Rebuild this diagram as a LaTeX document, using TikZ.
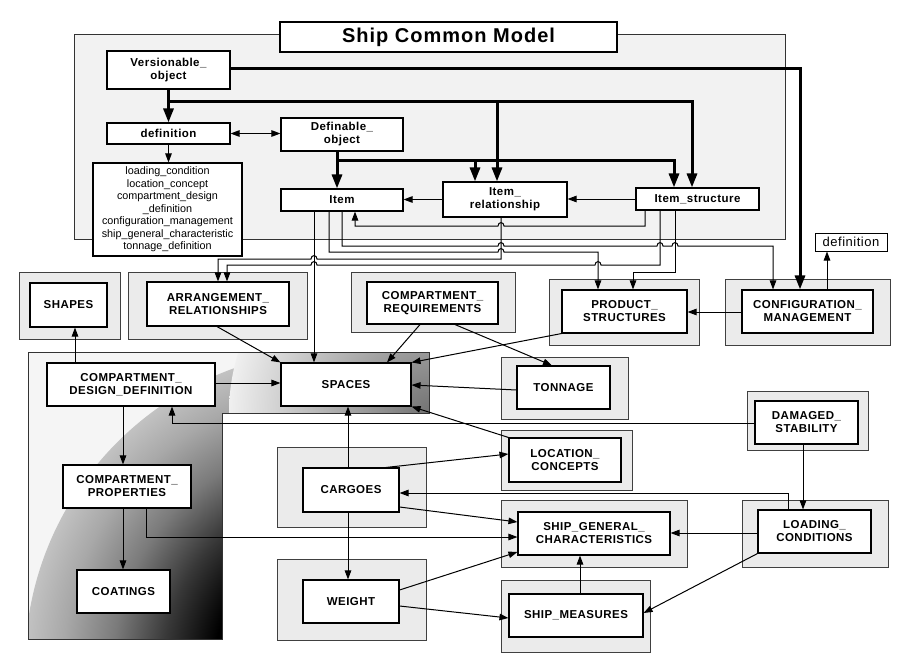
\documentclass[tikz,border=0pt]{standalone}
\usepackage{fontspec}
\setmainfont{Liberation Sans}
\newfontfamily\lblfont{Liberation Sans}[LetterSpace=4]
\newfontfamily\ttlfont{Liberation Sans}[LetterSpace=5]
\usetikzlibrary{arrows.meta,fit,calc}
\pgfdeclareradialshading{halo}{\pgfpoint{0bp}{0bp}}{color(0bp)=(black); color(10bp)=(black); color(14bp)=(black!78); color(18bp)=(black!52); color(22bp)=(black!34); color(25bp)=(black!24); color(50bp)=(black!24)}
\begin{document}
\begin{tikzpicture}[x=1pt,y=-1pt,
  lab/.style={font=\lblfont\bfseries\fontsize{11.5}{13}\selectfont, align=center, inner sep=0pt},
  ibox/.style={draw=black, line width=1.1pt, fill=white, inner sep=0pt},
  obox/.style={draw=black!75, line width=0.9pt, fill=black!8, inner sep=0pt},
  conn/.style={line width=1pt, -{Triangle[length=9pt,width=6.5pt]}},
  fat/.style={line width=3pt, -{Triangle[length=14pt,width=10pt]}},
  hopR/.style args={#1/#2}{insert path={-- (#1-3,#2) .. controls (#1-3,#2-4.5) and (#1+3,#2-4.5) .. (#1+3,#2)}},
  hopL/.style args={#1/#2}{insert path={-- (#1+3,#2) .. controls (#1+3,#2-4.5) and (#1-3,#2-4.5) .. (#1-3,#2)}},
]
\useasboundingbox (0,0) rectangle (900,664);
\fill[white] (0,0) rectangle (900,664);

% top container
\node[fit={(74,34)(785,239)}, draw=black!80, line width=0.9pt, fill=black!5, inner sep=0pt] (scm) {};

% L-shaped shaded container
\fill[black!4] (28,352) -- (429,352) -- (429,413) -- (222,413) -- (222,639) -- (28,639) -- cycle;
\begin{scope}
  \clip (28,352) -- (429,352) -- (429,413) -- (222,413) -- (222,639) -- (28,639) -- cycle;
  \shade[shading=halo] (340,665) circle [radius=315pt];
  \begin{scope}
    \clip (222,352) rectangle (429,413);
    \shade[inner color=black!55, outer color=black!6] (429,413) circle [radius=200pt];
  \end{scope}
\end{scope}
\draw[black!80, line width=0.9pt] (28,352) -- (429,352) -- (429,413) -- (222,413) -- (222,639) -- (28,639) -- cycle;

% outer entity boxes
\node[obox, fit={(19,272)(120,339)}] (shapesO) {};
\node[obox, fit={(128,272)(307,339)}] (arrO) {};
\node[obox, fit={(351,272)(515,332)}] (creqO) {};
\node[obox, fit={(549,279)(699,345)}] (psO) {};
\node[obox, fit={(725,279)(890,345)}] (cmO) {};
\node[obox, fit={(501,357)(628,419)}] (tonnageO) {};
\node[obox, fit={(501,430)(632,490)}] (loccO) {};
\node[obox, fit={(747,391)(868,450)}] (dmgO) {};
\node[obox, fit={(742,500)(888,567)}] (loadO) {};
\node[obox, fit={(501,500)(687,567)}] (sgcO) {};
\node[obox, fit={(501,580)(650,652)}] (smO) {};
\node[obox, fit={(277,447)(426,527)}] (cargoO) {};
\node[obox, fit={(277,559)(426,640)}] (weightO) {};

% top boxes
\node[ibox, fit={(280,22)(617,52)},
      label={[font=\ttlfont\bfseries\fontsize{20}{24}\selectfont, inner sep=0pt]center:Ship Common Model}] (title) {};
\node[ibox, fit={(107,51)(230,89)}, label={[lab]center:Versionable\_\\object}] (vers) {};
\node[ibox, fit={(107,123)(230,144)}, label={[lab]center:definition}] (defn) {};
\node[ibox, fit={(93,163)(242,256)},
      label={[font=\fontsize{10.8}{12.5}\selectfont, align=center, inner sep=0pt]center:loading\_condition\\location\_concept\\compartment\_design\\\_definition\\configuration\_management\\ship\_general\_characteristic\\tonnage\_definition}] (deflist) {};
\node[ibox, fit={(281,118)(403,151)}, label={[lab]center:Definable\_\\object}] (defobj) {};
\node[ibox, fit={(281,189)(403,211)}, label={[lab]center:Item}] (item) {};
\node[ibox, fit={(443,182)(567,217)}, label={[lab]center:Item\_\\relationship}] (irel) {};
\node[ibox, fit={(636,188)(759,210)}, label={[lab]center:Item\_structure}] (istr) {};

% inner entity boxes
\node[ibox, fit={(30,283)(107,327)}, label={[lab]center:SHAPES}] (shapes) {};
\node[ibox, fit={(147,282)(289,326)}, label={[lab]center:ARRANGEMENT\_\\RELATIONSHIPS}] (arr) {};
\node[ibox, fit={(367,282)(498,324)}, label={[lab]center:COMPARTMENT\_\\REQUIREMENTS}] (creq) {};
\node[ibox, fit={(562,290)(687,333)}, label={[lab]center:PRODUCT\_\\STRUCTURES}] (ps) {};
\node[ibox, fit={(742,290)(873,333)}, label={[lab]center:CONFIGURATION\_\\MANAGEMENT}] (cm) {};
\node[ibox, line width=1pt, fit={(815,233)(887,251)},
      label={[font=\lblfont\fontsize{13}{15}\selectfont, inner sep=0pt]center:definition}] (defsmall) {};
\node[ibox, fit={(517,366)(610,409)}, label={[lab]center:TONNAGE}] (tonnage) {};
\node[ibox, fit={(509,438)(621,482)}, label={[lab]center:LOCATION\_\\CONCEPTS}] (locc) {};
\node[ibox, fit={(755,401)(858,444)}, label={[lab]center:DAMAGED\_\\STABILITY}] (dmg) {};
\node[ibox, fit={(758,510)(871,553)}, label={[lab]center:LOADING\_\\CONDITIONS}] (load) {};
\node[ibox, fit={(518,512)(670,555)}, label={[lab]center:SHIP\_GENERAL\_\\CHARACTERISTICS}] (sgc) {};
\node[ibox, fit={(509,594)(643,637)}, label={[lab]center:SHIP\_MEASURES}] (sm) {};
\node[ibox, fit={(303,468)(399,512)}, label={[lab]center:CARGOES}] (cargo) {};
\node[ibox, fit={(303,580)(399,623)}, label={[lab]center:WEIGHT}] (weight) {};
\node[ibox, fit={(47,363)(215,406)}, label={[lab]center:COMPARTMENT\_\\DESIGN\_DEFINITION}] (cdd) {};
\node[ibox, fit={(281,363)(411,406)}, label={[lab]center:SPACES}] (spaces) {};
\node[ibox, fit={(63,465)(191,508)}, label={[lab]center:COMPARTMENT\_\\PROPERTIES}] (cprop) {};
\node[ibox, fit={(77,570)(170,613)}, label={[lab]center:COATINGS}] (coat) {};

% thick connectors
\coordinate (jv) at (168,101);
\coordinate (jv2) at (497,101);
\coordinate (jd) at (337,160);
\coordinate (jd2) at (475,160);
\draw[fat] (vers.east |- 0,68) -| (cm.north -| 800,0);
\draw[fat] (vers.south) -- (defn.north);
\draw[fat] (jv) -| (istr.north -| 692,0);
\draw[fat] (jv2) -- (irel.north -| 497,0);
\draw[fat] (defobj.south -| 337,0) -- (item.north -| 337,0);
\draw[fat] (jd) -| (istr.north -| 674,0);
\draw[fat] (jd2) -- (irel.north -| 475,0);

% thin connectors, upper part
\draw[conn, {Triangle[length=9pt,width=6.5pt]}-{Triangle[length=9pt,width=6.5pt]}] (defn.east) -- (defobj.west |- defn.east);
\draw[conn] (defn.south) -- (deflist.north -| defn.south);
\draw[conn] (irel.west) -- (item.east |- irel.west);
\draw[conn] (istr.west) -- (irel.east |- istr.west);
\draw[conn] (istr.south -| 645,0) -- (645,226) [hopL=501/226] -- (355,226) -- (item.south -| 355,0);
\draw[conn] (item.south -| 342,0) -- (342,246) [hopR=501/246] [hopR=660/246] [hopR=675/246] -- (773,246) -- (cm.north -| 773,0);
\draw[conn] (item.south -| 329,0) -- (329,252) [hopR=501/252] -- (598,252) -- (ps.north -| 598,0);
\draw[conn] (irel.south -| 501,0) -- (501,259) [hopL=314/259] -- (218,259) -- (arr.north -| 218,0);
\draw[conn] (istr.south -| 660,0) -- (660,265) [hopL=598/265] [hopL=314/265] -- (227,265) -- (arr.north -| 227,0);
\draw[conn] (istr.south -| 675,0) -- (675,272) -- (633,272) -- (ps.north -| 633,0);
\draw[conn] (item.south -| 314,0) -- (spaces.north -| 314,0);
\draw[conn] (cm.west |- 0,312) -- (ps.east |- 0,312);
\draw[conn] (cm.north -| 827,0) -- (defsmall.south -| 827,0);

% thin connectors, lower part
\draw[conn] (cdd.north -| 75,0) -- (shapes.south -| 75,0);
\draw[conn] (cdd.east |- 0,383) -- (spaces.west |- 0,383);
\draw[conn] (arr.south -| 217,0) -- (spaces.north west);
\draw[conn] (creq.south -| 420,0) -- (spaces.north -| 387,0);
\draw[conn] (creq.south -| 455,0) -- (tonnage.north -| 552,0);
\draw[conn] (ps.south west) -- (spaces.north east);
\draw[conn] (tonnage.west |- 0,390) -- (spaces.east |- 0,385);
\draw[conn] (locc.north west) -- (spaces.south east);
\draw[conn] (dmg.west |- 0,423) -- (172,423) -- (cdd.south -| 172,0);
\draw[conn] (cargo.north -| 348,0) -- (spaces.south -| 348,0);
\draw[conn] (cargo.north -| 386,0) -- (locc.west |- 0,454);
\draw[conn] (load.north -| 788,0) -- (788,493) -- (cargo.east |- 0,493);
\draw[conn] (dmg.south -| 803,0) -- (load.north -| 803,0);
\draw[conn] (load.west |- 0,533) -- (sgc.east |- 0,533);
\draw[conn] (load.south west) -- (sm.east |- 0,613);
\draw[conn] (sm.north -| 580,0) -- (sgc.south -| 580,0);
\draw[conn] (cargo.east |- 0,507) -- (sgc.west |- 0,522);
\draw[conn] (cprop.south -| 146,0) -- (146,537) -- (sgc.west |- 0,537);
\draw[conn] (weight.east |- 0,590) -- (sgc.west |- 0,552);
\draw[conn] (weight.east |- 0,606) -- (sm.west |- 0,618);
\draw[conn] (cargo.south -| 348,0) -- (weight.north -| 348,0);
\draw[conn] (cdd.south -| 123,0) -- (cprop.north -| 123,0);
\draw[conn] (cprop.south -| 123,0) -- (coat.north -| 123,0);
\end{tikzpicture}
\end{document}
